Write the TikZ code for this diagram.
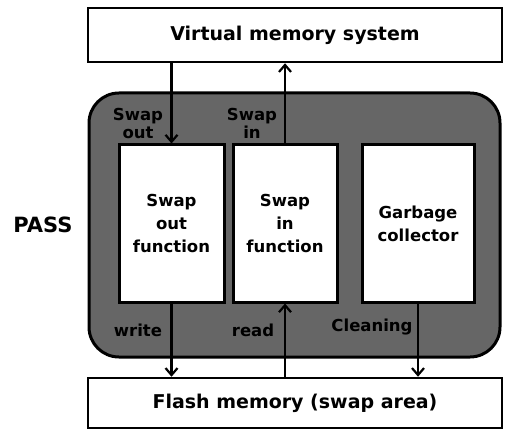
\documentclass[tikz,border=0pt]{standalone}
\usepackage{fontspec}
\setmainfont{DejaVu Sans}
\usetikzlibrary{arrows.meta}

\begin{document}
\begin{tikzpicture}[
    x=1pt, y=-1pt,
    every node/.style={font=\fontsize{16.5}{23}\selectfont\bfseries},
    membox/.style={
        draw, line width=2.5pt, fill=white,
        minimum width=414pt, minimum height=54pt,
        font=\fontsize{19}{23}\selectfont\bfseries
    },
    funcbox/.style={
        draw, line width=3pt, fill=white,
        minimum width=#1, minimum height=157pt, align=center
    },
    passarea/.style={
        draw, line width=3pt, fill=black!60, rounded corners=30pt,
        minimum width=411pt, minimum height=264pt
    },
    lbl/.style={align=center, font=\fontsize{16.5}{18}\selectfont\bfseries},
    arr/.style={-{Straight Barb[length=7pt,width=12pt,line width=2.2pt]}, line width=2.2pt},
]

\useasboundingbox (0,0) rectangle (505,430);

% Memory boxes
\node[membox] (vms) at (295,35) {Virtual memory system};
\node[membox, minimum height=50pt] (flash) at (295,403) {Flash memory (swap area)};

% PASS area
\node[passarea] (pass) at (294.5,225) {};
\node[font=\fontsize{21}{23}\selectfont\bfseries] (passlabel) at (43,225) {PASS};

% Function boxes
\node[funcbox=105pt] (swapout) at (171.5,223.5) {Swap\\out\\function};
\node[funcbox=104pt] (swapin) at (285,223.5) {Swap\\in\\function};
\node[funcbox=112pt] (gc) at (418,223.5) {Garbage\\collector};

% Arrows
\draw[arr] (vms.south -| swapout.north) -- (swapout.north);
\draw[arr] (swapin.north) -- (swapin.north |- vms.south);
\draw[arr] (swapout.south) -- (swapout.south |- flash.north);
\draw[arr] (flash.north -| swapin.south) -- (swapin.south);
\draw[arr] (gc.south) -- (gc.south |- flash.north);

% Arrow labels
\node[lbl] (lswapout) at (138,123) {Swap\\out};
\node[lbl] (lswapin) at (252,123) {Swap\\in};
\node[lbl] (lwrite) at (138,330) {write};
\node[lbl] (lread) at (253,330) {read};
\node[lbl] (lclean) at (372,327) {Cleaning};

\end{tikzpicture}
\end{document}
